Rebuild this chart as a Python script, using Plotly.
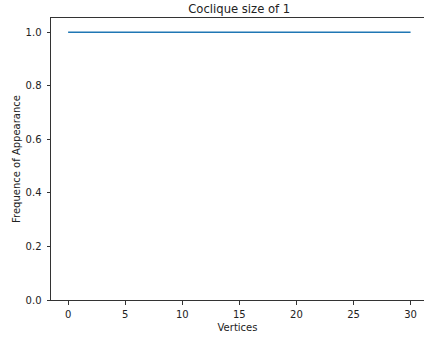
import plotly.graph_objects as go

vertices = [0, 1, 2, 3, 4, 5, 6, 7, 8, 9, 10, 11, 12, 13, 14, 15, 16, 17, 18, 19, 20,
            21, 22, 23, 24, 25, 26, 27, 28, 29, 30]
frequency = [1.0, 1.0, 1.0, 1.0, 1.0, 1.0, 1.0, 1.0, 1.0, 1.0, 1.0, 1.0, 1.0, 1.0, 1.0, 1.0,
             1.0, 1.0, 1.0, 1.0, 1.0, 1.0, 1.0, 1.0, 1.0, 1.0, 1.0, 1.0, 1.0, 1.0, 1.0]
x_ticks = [0, 5, 10, 15, 20, 25, 30]
y_ticks = [0.0, 0.2, 0.4, 0.6, 0.8, 1.0]

W, H = 424, 339
L, T, B = 50.5, 18, 39
font = "DejaVu Sans, sans-serif"

fig = go.Figure()
fig.add_trace(go.Scatter(x=vertices, y=frequency, mode="lines",
                         line=dict(color="#1f77b4", width=1.4), showlegend=False))

fig.update_layout(
    width=W, height=H,
    margin=dict(l=L, r=0, t=T, b=B, pad=0),
    paper_bgcolor="white", plot_bgcolor="white",
    font=dict(family=font, size=10, color="#222222"),
    title=dict(text="Coclique size of 1", font=dict(size=11.6, color="#222222", family=font),
               x=(239 - L) / (W - L), xref="paper", xanchor="center",
               y=1 - 8.5 / H, yref="container", yanchor="middle"),
    xaxis=dict(range=[-1.5, -1.5 + (W - L) / 11.43], tickvals=x_ticks,
               showline=True, linecolor="#333333", linewidth=1, mirror=True,
               ticks="outside", ticklen=3.5, tickcolor="#333333", tickwidth=0.8,
               ticklabelstandoff=1,
               showgrid=False, zeroline=False,
               title=dict(text="Vertices", font=dict(size=10), standoff=5)),
    yaxis=dict(range=[0, 1.053], tickvals=y_ticks, tickformat=".1f",
               showline=True, linecolor="#333333", linewidth=1, mirror=False,
               ticks="outside", ticklen=3.5, tickcolor="#333333", tickwidth=0.8,
               ticklabelstandoff=3,
               showgrid=False, zeroline=False,
               title=dict(text="Frequence of Appearance", font=dict(size=10), standoff=3)),
)

fig.write_html("out.html", config={"displayModeBar": False},
               post_script="document.body.style.margin='0';")
